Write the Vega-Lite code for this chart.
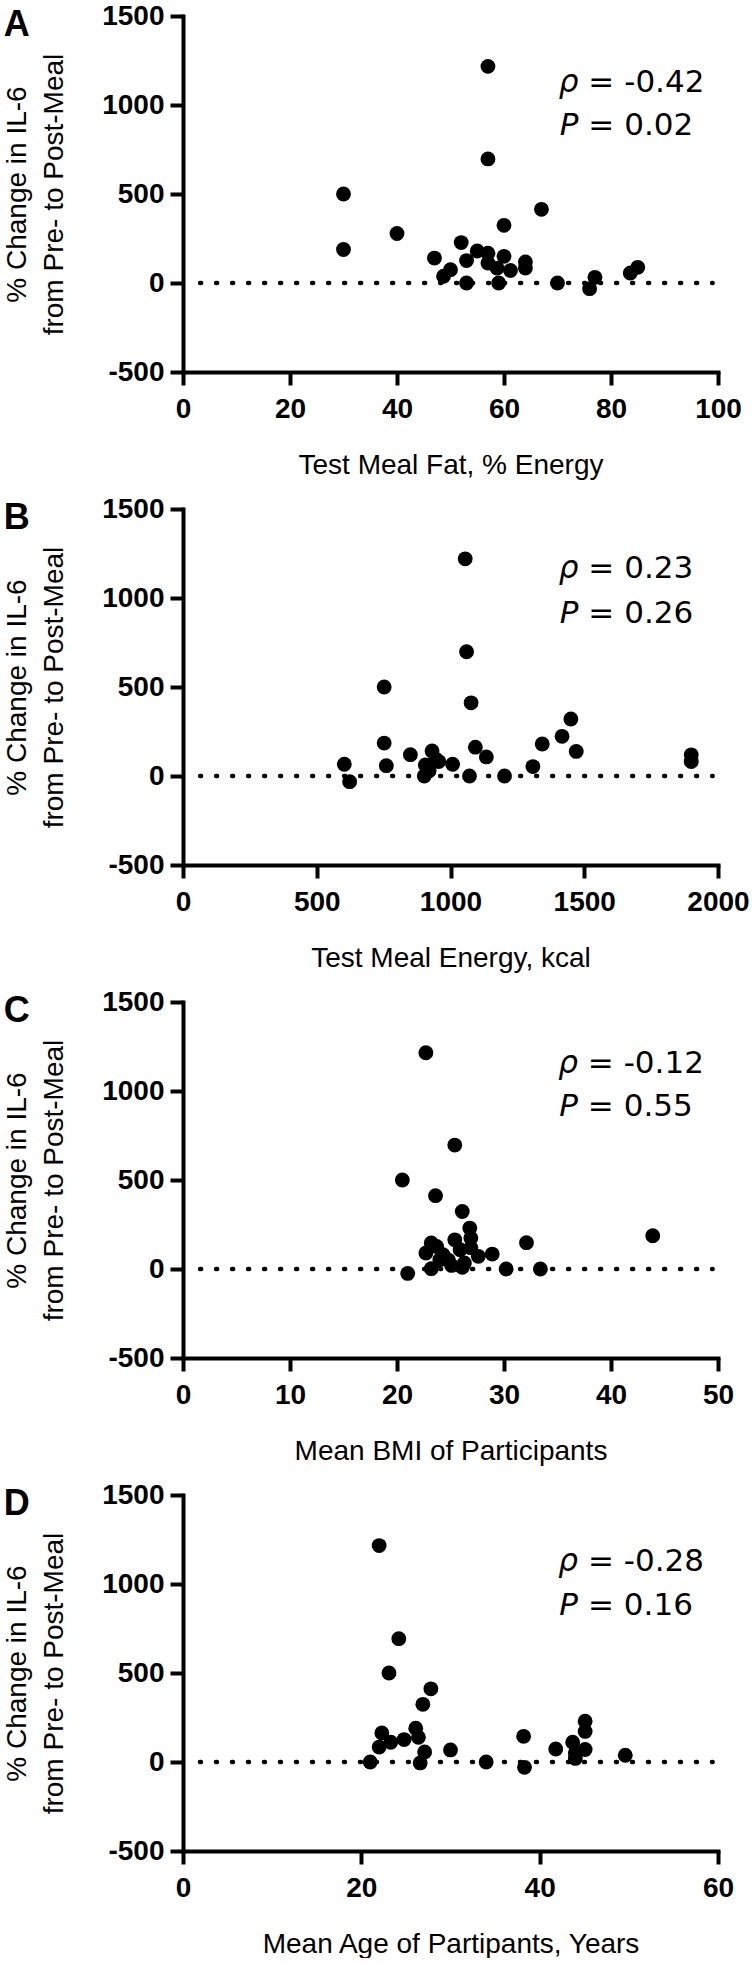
{
  "$schema": "https://vega.github.io/schema/vega-lite/v6.json",
  "background": "white",
  "padding": {"left": 3, "top": 2, "right": 0, "bottom": 0},
  "config": {
    "view": {"stroke": null},
    "font": "Liberation Sans",
    "axis": {
      "domainColor": "black", "domainWidth": 4, "domainCap": "square",
      "tickColor": "black", "tickWidth": 4, "tickSize": 13,
      "labelFont": "Liberation Sans", "labelFontWeight": "bold", "labelFontSize": 28, "labelColor": "black",
      "titleFont": "Liberation Sans", "titleFontWeight": "normal", "titleFontSize": 28, "titleColor": "black",
      "grid": false, "labelFlush": false, "labelOverlap": false,
      "labelExpr": "'' + datum.value"
    },
    "axisY": {"labelPadding": 6, "titlePadding": 33, "titleLineHeight": 37},
    "axisX": {"labelPadding": 10, "titlePadding": 28},
    "title": {"anchor": "start", "frame": "bounds", "fontSize": 36, "fontWeight": "bold", "font": "Liberation Sans", "color": "black", "offset": -42, "baseline": "alphabetic"},
    "circle": {"size": 220, "opacity": 1, "color": "black"},
    "text": {"font": "DejaVu Sans", "fontSize": 31, "color": "black", "baseline": "alphabetic"}
  },
  "datasets": {
    "fat": [
      {"x": 30, "y": 500}, {"x": 30, "y": 188}, {"x": 40, "y": 278}, {"x": 47, "y": 140}, {"x": 48.7, "y": 38},
      {"x": 50, "y": 75}, {"x": 52, "y": 227}, {"x": 53, "y": 126}, {"x": 53, "y": 0}, {"x": 55, "y": 180},
      {"x": 57, "y": 1217}, {"x": 57, "y": 697}, {"x": 57, "y": 167}, {"x": 57, "y": 112}, {"x": 58.7, "y": 84},
      {"x": 59, "y": 0}, {"x": 60, "y": 324}, {"x": 60, "y": 150}, {"x": 61.2, "y": 70}, {"x": 64, "y": 118},
      {"x": 64, "y": 84}, {"x": 67, "y": 414}, {"x": 70, "y": 0}, {"x": 76, "y": -32}, {"x": 77, "y": 32},
      {"x": 83.6, "y": 56}, {"x": 85, "y": 88}
    ],
    "energy": [
      {"x": 603, "y": 66}, {"x": 623, "y": -32}, {"x": 752, "y": 500}, {"x": 752, "y": 185}, {"x": 760, "y": 58},
      {"x": 850, "y": 120}, {"x": 902, "y": 0}, {"x": 906, "y": 62}, {"x": 931, "y": 141}, {"x": 945, "y": 95},
      {"x": 956, "y": 81}, {"x": 920, "y": 30}, {"x": 1008, "y": 66}, {"x": 1055, "y": 1220}, {"x": 1060, "y": 698},
      {"x": 1077, "y": 411}, {"x": 1071, "y": 0}, {"x": 1093, "y": 162}, {"x": 1134, "y": 107}, {"x": 1202, "y": 0},
      {"x": 1308, "y": 53}, {"x": 1343, "y": 180}, {"x": 1417, "y": 223}, {"x": 1450, "y": 320}, {"x": 1470, "y": 138},
      {"x": 1900, "y": 119}, {"x": 1900, "y": 81}
    ],
    "bmi": [
      {"x": 20.5, "y": 500}, {"x": 21, "y": -25}, {"x": 22.7, "y": 1215}, {"x": 22.7, "y": 90}, {"x": 23.2, "y": 146},
      {"x": 23.2, "y": 2}, {"x": 23.6, "y": 412}, {"x": 23.7, "y": 127}, {"x": 24, "y": 52}, {"x": 24.3, "y": 80},
      {"x": 24.8, "y": 50}, {"x": 25.1, "y": 20}, {"x": 25.4, "y": 696}, {"x": 25.4, "y": 164}, {"x": 25.9, "y": 108},
      {"x": 26.1, "y": 323}, {"x": 26.1, "y": 10}, {"x": 26.3, "y": 34}, {"x": 26.8, "y": 230}, {"x": 26.9, "y": 174},
      {"x": 26.9, "y": 120}, {"x": 27.6, "y": 71}, {"x": 28.9, "y": 84}, {"x": 30.2, "y": 0}, {"x": 32.1, "y": 148},
      {"x": 33.4, "y": 0}, {"x": 43.9, "y": 187}
    ],
    "age": [
      {"x": 21, "y": 0}, {"x": 22, "y": 1216}, {"x": 22, "y": 84}, {"x": 22.3, "y": 163}, {"x": 23.1, "y": 500},
      {"x": 23.3, "y": 111}, {"x": 24.2, "y": 693}, {"x": 24.8, "y": 126}, {"x": 26.1, "y": 190}, {"x": 26.4, "y": 139},
      {"x": 26.6, "y": -5}, {"x": 26.9, "y": 324}, {"x": 27.1, "y": 56}, {"x": 27.8, "y": 411}, {"x": 30, "y": 68},
      {"x": 34, "y": 0}, {"x": 38.2, "y": 144}, {"x": 38.3, "y": -30}, {"x": 41.8, "y": 73}, {"x": 43.7, "y": 111},
      {"x": 44, "y": 51}, {"x": 44, "y": 20}, {"x": 45.1, "y": 229}, {"x": 45.1, "y": 172}, {"x": 45.1, "y": 70},
      {"x": 49.6, "y": 38}
    ]
  },
  "vconcat": [
    {
      "width": 535, "height": 356,
      "title": "A",
      "encoding": {
        "x": {"field": "x", "type": "quantitative", "scale": {"domain": [0, 100], "nice": false, "zero": false},
              "axis": {"values": [0, 20, 40, 60, 80, 100], "title": "Test Meal Fat, % Energy"}},
        "y": {"field": "y", "type": "quantitative", "scale": {"domain": [-500, 1500], "nice": false},
              "axis": {"values": [-500, 0, 500, 1000, 1500], "title": ["% Change in IL-6", "from Pre- to Post-Meal"]}}
      },
      "layer": [
        {"data": {"values": [{"x": 3.2, "x1": 99, "y": 0}]},
         "mark": {"type": "rule", "strokeDash": [1, 15], "strokeCap": "round", "strokeWidth": 4.5, "color": "black"},
         "encoding": {"x2": {"field": "x1"}}},
        {"data": {"name": "fat"}, "mark": "circle"},
        {"data": {"values": [{"sym": "ρ", "rest": "= -0.42", "x": 73.9, "y": 1073}, {"sym": "P", "rest": "= 0.02", "x": 73.9, "y": 830}]},
         "mark": {"type": "text", "align": "right", "fontStyle": "italic"}, "encoding": {"text": {"field": "sym"}}},
        {"data": {"values": [{"sym": "ρ", "rest": "= -0.42", "x": 73.9, "y": 1073}, {"sym": "P", "rest": "= 0.02", "x": 73.9, "y": 830}]},
         "mark": {"type": "text", "align": "left", "dx": 10}, "encoding": {"text": {"field": "rest"}}}
      ]
    },
    {
      "width": 535, "height": 356,
      "title": "B",
      "encoding": {
        "x": {"field": "x", "type": "quantitative", "scale": {"domain": [0, 2000], "nice": false, "zero": false},
              "axis": {"values": [0, 500, 1000, 1500, 2000], "title": "Test Meal Energy, kcal"}},
        "y": {"field": "y", "type": "quantitative", "scale": {"domain": [-500, 1500], "nice": false},
              "axis": {"values": [-500, 0, 500, 1000, 1500], "title": ["% Change in IL-6", "from Pre- to Post-Meal"]}}
      },
      "layer": [
        {"data": {"values": [{"x": 64, "x1": 1980, "y": 0}]},
         "mark": {"type": "rule", "strokeDash": [1, 15], "strokeCap": "round", "strokeWidth": 4.5, "color": "black"},
         "encoding": {"x2": {"field": "x1"}}},
        {"data": {"name": "energy"}, "mark": "circle"},
        {"data": {"values": [{"sym": "ρ", "rest": "= 0.23", "x": 1478, "y": 1110}, {"sym": "P", "rest": "= 0.26", "x": 1478, "y": 861}]},
         "mark": {"type": "text", "align": "right", "fontStyle": "italic"}, "encoding": {"text": {"field": "sym"}}},
        {"data": {"values": [{"sym": "ρ", "rest": "= 0.23", "x": 1478, "y": 1110}, {"sym": "P", "rest": "= 0.26", "x": 1478, "y": 861}]},
         "mark": {"type": "text", "align": "left", "dx": 10}, "encoding": {"text": {"field": "rest"}}}
      ]
    },
    {
      "width": 535, "height": 356,
      "title": "C",
      "encoding": {
        "x": {"field": "x", "type": "quantitative", "scale": {"domain": [0, 50], "nice": false, "zero": false},
              "axis": {"values": [0, 10, 20, 30, 40, 50], "title": "Mean BMI of Participants"}},
        "y": {"field": "y", "type": "quantitative", "scale": {"domain": [-500, 1500], "nice": false},
              "axis": {"values": [-500, 0, 500, 1000, 1500], "title": ["% Change in IL-6", "from Pre- to Post-Meal"]}}
      },
      "layer": [
        {"data": {"values": [{"x": 1.6, "x1": 49.5, "y": 0}]},
         "mark": {"type": "rule", "strokeDash": [1, 15], "strokeCap": "round", "strokeWidth": 4.5, "color": "black"},
         "encoding": {"x2": {"field": "x1"}}},
        {"data": {"name": "bmi"}, "mark": "circle"},
        {"data": {"values": [{"sym": "ρ", "rest": "= -0.12", "x": 36.9, "y": 1102}, {"sym": "P", "rest": "= 0.55", "x": 36.9, "y": 858}]},
         "mark": {"type": "text", "align": "right", "fontStyle": "italic"}, "encoding": {"text": {"field": "sym"}}},
        {"data": {"values": [{"sym": "ρ", "rest": "= -0.12", "x": 36.9, "y": 1102}, {"sym": "P", "rest": "= 0.55", "x": 36.9, "y": 858}]},
         "mark": {"type": "text", "align": "left", "dx": 10}, "encoding": {"text": {"field": "rest"}}}
      ]
    },
    {
      "width": 535, "height": 356,
      "title": "D",
      "encoding": {
        "x": {"field": "x", "type": "quantitative", "scale": {"domain": [0, 60], "nice": false, "zero": false},
              "axis": {"values": [0, 20, 40, 60], "title": "Mean Age of Partipants, Years"}},
        "y": {"field": "y", "type": "quantitative", "scale": {"domain": [-500, 1500], "nice": false},
              "axis": {"values": [-500, 0, 500, 1000, 1500], "title": ["% Change in IL-6", "from Pre- to Post-Meal"]}}
      },
      "layer": [
        {"data": {"values": [{"x": 1.9, "x1": 59.4, "y": 0}]},
         "mark": {"type": "rule", "strokeDash": [1, 15], "strokeCap": "round", "strokeWidth": 4.5, "color": "black"},
         "encoding": {"x2": {"field": "x1"}}},
        {"data": {"name": "age"}, "mark": "circle"},
        {"data": {"values": [{"sym": "ρ", "rest": "= -0.28", "x": 44.3, "y": 1071}, {"sym": "P", "rest": "= 0.16", "x": 44.3, "y": 828}]},
         "mark": {"type": "text", "align": "right", "fontStyle": "italic"}, "encoding": {"text": {"field": "sym"}}},
        {"data": {"values": [{"sym": "ρ", "rest": "= -0.28", "x": 44.3, "y": 1071}, {"sym": "P", "rest": "= 0.16", "x": 44.3, "y": 828}]},
         "mark": {"type": "text", "align": "left", "dx": 10}, "encoding": {"text": {"field": "rest"}}}
      ]
    }
  ],
  "spacing": 137,
  "bounds": "flush"
}
